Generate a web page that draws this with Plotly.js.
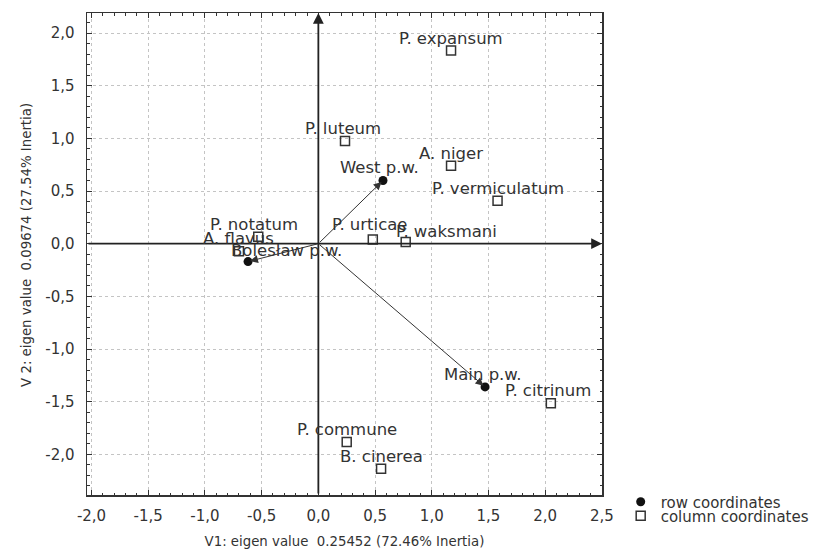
<!DOCTYPE html>
<html><head><meta charset="utf-8">
<script src="https://cdn.plot.ly/plotly-3.0.1.min.js"></script>
<style>html,body{margin:0;padding:0;background:#fff}</style>
</head><body><div id="chart" style="width:818px;height:551px"></div>
<script>
// ---- data ----
const rowNames = ["West p.w.", "Bolesław p.w.", "Main p.w."];
const rowX = [0.57, -0.62, 1.47];
const rowY = [0.60, -0.17, -1.36];

const colNames = ["P. expansum", "P. luteum", "A. niger", "P. vermiculatum", "P. urticae",
                  "P. waksmani", "P. notatum", "A. flavus", "P. citrinum", "P. commune", "B. cinerea"];
const colX = [1.17, 0.235, 1.17, 1.58, 0.48, 0.77, -0.53, -0.70, 2.05, 0.25, 0.553];
const colY = [1.833, 0.974, 0.74, 0.407, 0.04, 0.017, 0.065, -0.071, -1.516, -1.884, -2.137];

const xTickVals = [-2.0, -1.5, -1.0, -0.5, 0.0, 0.5, 1.0, 1.5, 2.0, 2.5];
const xTickText = ["-2,0", "-1,5", "-1,0", "-0,5", "0,0", "0,5", "1,0", "1,5", "2,0", "2,5"];
const yTickVals = [-2.0, -1.5, -1.0, -0.5, 0.0, 0.5, 1.0, 1.5, 2.0];
const yTickText = ["-2,0", "-1,5", "-1,0", "-0,5", "0,0", "0,5", "1,0", "1,5", "2,0"];

const xTitle = "V1: eigen value \u00a00.25452 (72.46% Inertia)";
const yTitle = "V 2: eigen value \u00a00.09674 (27.54% Inertia)";
const legendNames = ["row coordinates", "column coordinates"];

// ---- style ----
const FONT = "DejaVu Sans";
const TXT = "#333";
const xr = [-2.04, 2.501];
const yr = [-2.386, 2.19];
const labelDx = {"P. waksmani": 41, "Bolesław p.w.": 38, "West p.w.": -4, "P. urticae": -3,
                 "P. notatum": -4, "P. citrinum": -3, "Main p.w.": -2, "P. luteum": -2};
const labelDy = {"P. urticae": 15, "P. waksmani": 10, "Bolesław p.w.": 11};

const plotL = 87, plotR = 602.3, plotT = 13.3, plotB = 495;
const px2x = p => (p - plotL) / (plotR - plotL);
const px2y = p => (plotB - p) / (plotB - plotT);

const traces = [
  {type: "scatter", mode: "markers", x: rowX, y: rowY, name: legendNames[0], legend: "legend",
   marker: {symbol: "circle", size: 9, color: "#111"}, cliponaxis: false, hoverinfo: "skip"},
  {type: "scatter", mode: "markers", x: colX, y: colY, name: legendNames[1], legend: "legend2",
   marker: {symbol: "square-open", size: 9, color: "#333", line: {width: 1.5, color: "#333"}},
   cliponaxis: false, hoverinfo: "skip"}
];

const annotations = [];
// axis arrows through origin
annotations.push({x: 0, y: yr[1], ax: 0, ay: yr[0], xref: "x", yref: "y", axref: "x", ayref: "y",
  showarrow: true, arrowhead: 2, arrowsize: 1.2, arrowwidth: 1.8, arrowcolor: "#222", text: ""});
annotations.push({x: xr[1], y: 0, ax: xr[0], ay: 0, xref: "x", yref: "y", axref: "x", ayref: "y",
  showarrow: true, arrowhead: 2, arrowsize: 1.2, arrowwidth: 1.8, arrowcolor: "#222", text: ""});
// row arrows
rowNames.forEach((n, i) => {
  annotations.push({x: rowX[i], y: rowY[i], ax: 0, ay: 0, xref: "x", yref: "y", axref: "x", ayref: "y",
    showarrow: true, arrowhead: 2, arrowsize: 1.6, arrowwidth: 1, arrowcolor: "#333", standoff: 2, text: ""});
});
// labels
function addLabel(n, x, y) {
  annotations.push({x: x, y: y, xref: "x", yref: "y", text: n, showarrow: false,
    xanchor: "center", yanchor: "middle",
    xshift: labelDx[n] || 0, yshift: labelDy[n] !== undefined ? labelDy[n] : 12.5,
    font: {family: FONT, size: 16.5, color: TXT}});
}
colNames.forEach((n, i) => addLabel(n, colX[i], colY[i]));
rowNames.forEach((n, i) => addLabel(n, rowX[i], rowY[i]));
// y axis title
annotations.push({xref: "paper", yref: "paper", x: px2x(27), y: px2y(245), text: yTitle,
  textangle: -90, showarrow: false, xanchor: "center", yanchor: "middle",
  font: {family: FONT, size: 13.3, color: TXT}});

const axisCommon = {
  showline: true, linecolor: "#333", linewidth: 1.5, mirror: "allticks",
  ticks: "inside", ticklen: 5, tickwidth: 1, tickcolor: "#333",
  tickmode: "array",
  showgrid: true, gridcolor: "#c4c4c4", griddash: "dot", gridwidth: 1,
  zeroline: false,
  minor: {ticks: "inside", ticklen: 2.5, tickcolor: "#333", tickmode: "linear", tick0: 0, dtick: 0.1, showgrid: false},
  tickfont: {family: FONT, size: 15, color: TXT}
};

const layout = {
  width: 818, height: 551,
  margin: {l: plotL, r: 818 - plotR, t: plotT, b: 551 - plotB, autoexpand: false},
  paper_bgcolor: "#fff", plot_bgcolor: "#fff",
  showlegend: true,
  font: {family: FONT, color: TXT},
  xaxis: Object.assign({}, axisCommon, {range: xr, tickvals: xTickVals, ticktext: xTickText,
    ticklabelstandoff: 6, automargin: false,
    title: {text: xTitle, font: {family: FONT, size: 13.3, color: TXT}, standoff: 13}}),
  yaxis: Object.assign({}, axisCommon, {range: yr, tickvals: yTickVals, ticktext: yTickText,
    ticklabelstandoff: 8, automargin: false}),
  legend: {x: px2x(621), y: px2y(502), xanchor: "left", yanchor: "middle",
    bgcolor: "rgba(0,0,0,0)", font: {family: FONT, size: 15, color: TXT}},
  legend2: {x: px2x(621), y: px2y(516), xanchor: "left", yanchor: "middle",
    bgcolor: "rgba(0,0,0,0)", font: {family: FONT, size: 15, color: TXT}},
  annotations: annotations
};

Plotly.newPlot("chart", traces, layout, {displayModeBar: false, staticPlot: true});
</script>
</body></html>
